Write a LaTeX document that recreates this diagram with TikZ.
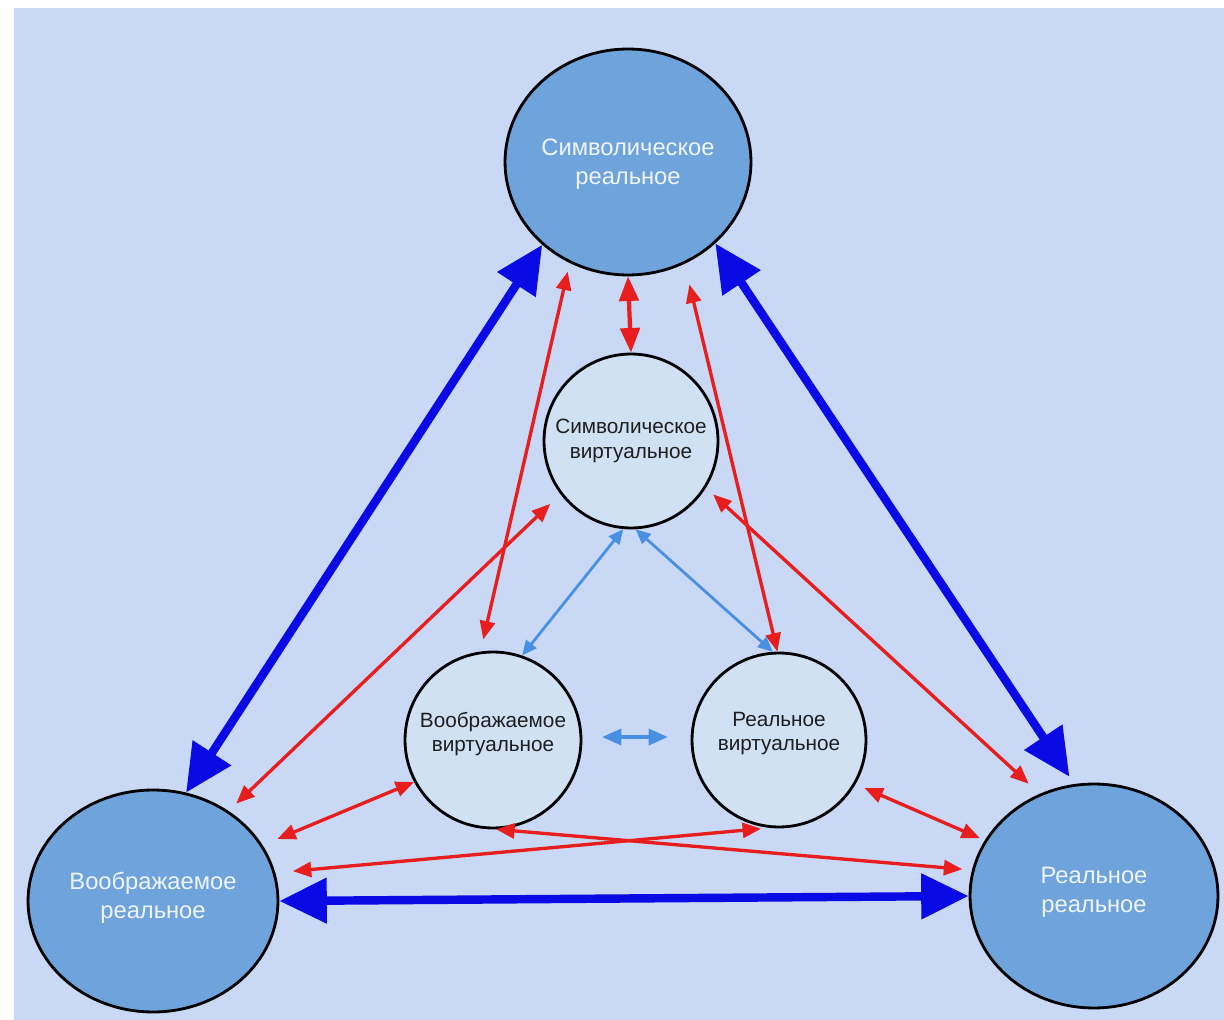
\documentclass[tikz,border=0pt]{standalone}
\usepackage{fontspec}
\setmainfont{Liberation Sans}
\usetikzlibrary{shapes.geometric,arrows.meta,calc}
\definecolor{bgblue}{RGB}{201,217,245}
\definecolor{bigfill}{RGB}{111,163,219}
\definecolor{smallfill}{RGB}{208,225,243}
\definecolor{thickblue}{RGB}{10,10,228}
\definecolor{redarr}{RGB}{232,30,30}
\definecolor{lightarr}{RGB}{74,144,226}
\definecolor{bigtextcol}{RGB}{240,245,252}
\definecolor{smalltextcol}{RGB}{30,30,30}
\tikzset{
  bignode/.style={ellipse, draw=black, line width=1.6pt, fill=bigfill, inner sep=0pt},
  smallnode/.style={circle, draw=black, line width=1.6pt, fill=smallfill, inner sep=0pt},
  bigtext/.style={text=bigtextcol, align=center, font=\fontsize{13.5}{16.5}\selectfont, inner sep=0pt},
  smalltext/.style={text=smalltextcol, align=center, font=\fontsize{11.8}{13.8}\selectfont, inner sep=0pt},
  thickarr/.style={draw=thickblue, line width=4.8pt, {Triangle[length=27pt,width=25pt]}-{Triangle[length=27pt,width=25pt]}},
  redline/.style={draw=redarr, line width=1.9pt, {Triangle[length=10.5pt,width=8.5pt]}-{Triangle[length=10.5pt,width=8.5pt]}},
  redbig/.style={draw=redarr, line width=2.4pt, {Triangle[length=14pt,width=11pt]}-{Triangle[length=14pt,width=11pt]}},
  lightline/.style={draw=lightarr, line width=1.6pt, {Triangle[length=8.5pt,width=7.5pt]}-{Triangle[length=8.5pt,width=7.5pt]}},
  lightmid/.style={draw=lightarr, line width=2.2pt, {Triangle[length=11pt,width=9pt]}-{Triangle[length=11pt,width=9pt]}}
}
\begin{document}
\begin{tikzpicture}[x=0.02cm,y=-0.02cm]
\useasboundingbox (0,0) rectangle (1224,1020);
\fill[white] (0,0) rectangle (1224,1020);
\fill[bgblue] (14,8) rectangle (1224,1020);

% big nodes
\node[bignode, minimum width=4.92cm, minimum height=4.52cm] (T) at (628,162) {};
\node[bignode, minimum width=5.0cm, minimum height=4.44cm] (BL) at (153,901) {};
\node[bignode, minimum width=4.96cm, minimum height=4.48cm] (BR) at (1094,896) {};
% small nodes
\node[smallnode, minimum size=3.48cm] (SV) at (631,441) {};
\node[smallnode, minimum size=3.52cm] (IV) at (493,740) {};
\node[smallnode, minimum size=3.48cm] (RV) at (779,740) {};

% texts
\node[bigtext, yshift=-1.5pt] (Tt) at (T) {Символическое\\реальное};
\node[bigtext, yshift=2pt] (BLt) at (BL) {Воображаемое\\реальное};
\node[bigtext, yshift=2pt] (BRt) at (BR) {Реальное\\реальное};
\node[smalltext] (SVt) at (SV) {Символическое\\виртуальное};
\node[smalltext, yshift=3.5pt] (IVt) at (IV) {Воображаемое\\виртуальное};
\node[smalltext, yshift=3.5pt] (RVt) at (RV) {Реальное\\виртуальное};

% thick blue arrows
\draw[thickarr] (T.224) -- (BL.73);
\draw[thickarr, shorten >=5pt] (T.317) -- (BR.100);
\draw[thickarr] (BL.0) -- (BR.180);

% red arrows
\draw[redbig] (T.270) -- (SV.90);
\draw[redline, shorten <=5pt, shorten >=7pt] (T.240.5) -- (IV.98.5);
\draw[redline, shorten <=12pt] (T.299.6) -- (RV.91);
\draw[redline, shorten <=8pt, shorten >=6pt] (SV.217) -- (BL.50);
\draw[redline, shorten <=5.5pt, shorten >=8.5pt] (SV.328) -- (BR.118);
\draw[redline, shorten >=9pt] (IV.208.7) -- (BL.27);
\draw[redline, shorten <=5.5pt, shorten >=3pt] (RV.330) -- (BR.153.8);
\draw[redline, shorten >=5.5pt] (IV.272.6) -- (BR.168.8);
\draw[redline, shorten <=5pt, shorten >=10pt] (RV.264) -- (BL.13.8);

% light blue arrows
\draw[lightline] (SV.265) -- (IV.71);
\draw[lightline] (SV.273) -- (RV.94);
\coordinate (m1) at ($(IV)!0.381!(RV)+(0,-3)$);
\coordinate (m2) at ($(IV)!0.612!(RV)+(0,-3)$);
\draw[lightmid] (m1) -- (m2);
\end{tikzpicture}
\end{document}
